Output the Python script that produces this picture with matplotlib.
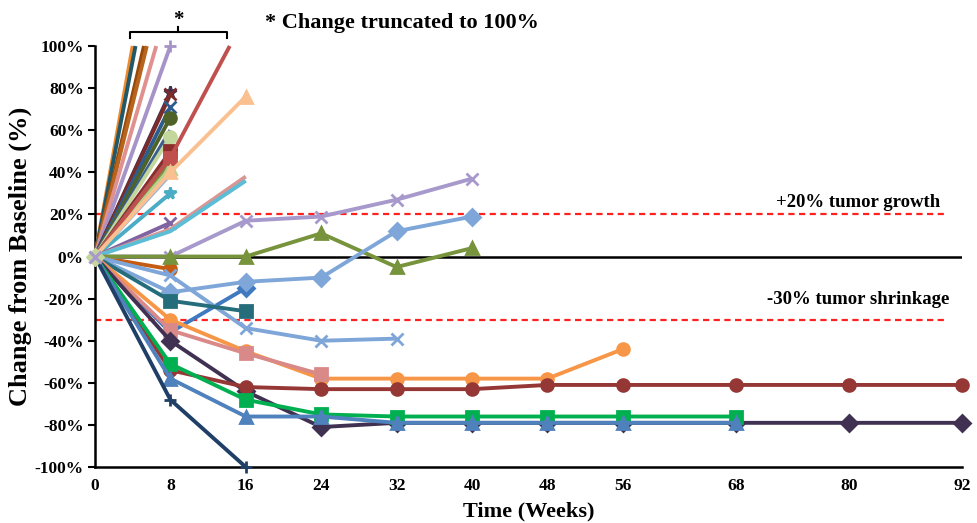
import matplotlib.pyplot as plt
import numpy as np

plt.rcParams['font.family'] = 'Liberation Serif'
plt.rcParams['font.weight'] = 'bold'

# week grid and tick labels
x_ticks = [0, 8, 16, 24, 32, 40, 48, 56, 68, 80, 92]
y_ticks = [-100, -80, -60, -40, -20, 0, 20, 40, 60, 80, 100]

# patients whose change was truncated at 100% before week 8
trunc_weeks = [4.0, 4.3, 5.2, 5.5, 6.5]
trunc_colors = ['#F08A2C', '#215968', '#984807', '#B7651E', '#E0908E']

# patients with a single follow-up scan at week 8
single_vals = [100, 78, 77, 71, 66, 60, 57, 50, 47, 45, 44, 42, 39, 30, 16, -6]
single_colors = ['#A694C8', '#403152', '#7A2B2A', '#2F5C8F', '#4F6228', '#3B5E91',
                 '#C3D69B', '#8C2E2C', '#2E9C8E', '#31859C', '#77933C', '#B9D18F',
                 '#95B3D7', '#4BACC6', '#8064A2', '#C55A11']
single_markers = ['+', '*', 'x', 'x', 'o', None, 'o', 's', None, '*', None, '^',
                  None, '*', 'x', 'o']

# longer follow-up series
w_red = [0, 8, 14.3]
v_red = [0, 47, 100]
w_peach = [0, 8, 16]
v_peach = [0, 40, 76]
w_pink = [0, 8, 16]
v_pink = [0, 13, 38]
w_cyan = [0, 8, 16]
v_cyan = [0, 12, 36]
w_lav = [0, 8, 16, 24, 32, 40]
v_lav = [0, 0, 17, 19, 27, 37]
w_gtri = [0, 8, 16, 24, 32, 40]
v_gtri = [0, 0, 0, 11, -5, 4]
w_lbdia = [0, 8, 16, 24, 32, 40]
v_lbdia = [0, -17, -12, -10, 12, 19]
w_bdia = [0, 8, 16]
v_bdia = [0, -36, -15]
w_lbx = [0, 8, 16, 24, 32]
v_lbx = [0, -9, -34, -40, -39]
w_teal = [0, 8, 16]
v_teal = [0, -21, -26]
w_orange = [0, 8, 16, 24, 32, 40, 48, 56]
v_orange = [0, -30, -45, -58, -58, -58, -58, -44]
w_salmon = [0, 8, 16, 24]
v_salmon = [0, -35, -46, -56]
w_dpur = [0, 8, 16, 24, 32, 40, 48, 56, 68, 80, 92]
v_dpur = [0, -40, -64, -81, -79, -79, -79, -79, -79, -79, -79]
w_dred = [0, 8, 16, 24, 32, 40, 48, 56, 68, 80, 92]
v_dred = [0, -54, -62, -63, -63, -63, -61, -61, -61, -61, -61]
w_green = [0, 8, 16, 24, 32, 40, 48, 56, 68]
v_green = [0, -51, -68, -75, -76, -76, -76, -76, -76]
w_btri = [0, 8, 16, 24, 32, 40, 48, 56, 68]
v_btri = [0, -58, -76, -76, -79, -79, -79, -79, -79]
w_navy = [0, 8, 16]
v_navy = [0, -68, -100]

fig = plt.figure(figsize=(9.77, 5.23), dpi=100)
ax = fig.add_axes([0.0972, 0.107, 0.8875, 0.805])

lw = 2.8
ms = 8.5


def line(w, v, color, marker=None, mevery=None, z=3):
    ax.plot(w, v, color=color, lw=lw, marker=marker, ms=ms, mew=2,
            markevery=mevery, clip_on=False, zorder=z, solid_capstyle='butt')


# reference lines
ax.axhline(0, xmin=0, xmax=1, color='black', lw=1.8, zorder=2)
ax.plot([0, 90.5], [20, 20], color='#FF2020', lw=1.6, ls=(0, (2.8, 2)), zorder=2)
ax.plot([0, 90.5], [-30, -30], color='#FF2020', lw=1.6, ls=(0, (2.8, 2)), zorder=2)

for wk, c in zip(trunc_weeks, trunc_colors):
    line([0, wk], [0, 100], c)

for val, c, m in zip(single_vals, single_colors, single_markers):
    line([0, 8], [0, val], c, m, mevery=[1] if m else None)

line(w_red, v_red, '#C0504D', 's', mevery=[1])
line(w_peach, v_peach, '#FAC090', '^', mevery=[1, 2])
line(w_pink, v_pink, '#D99694')
line(w_cyan, v_cyan, '#5BBDD6')
line(w_lav, v_lav, '#A899CC', 'x', mevery=[1, 2, 3, 4, 5])
line(w_gtri, v_gtri, '#77933C', '^', mevery=[1, 2, 3, 4, 5])
line(w_bdia, v_bdia, '#3F79BF', 'D', mevery=[2])
line(w_lbdia, v_lbdia, '#7EA6D8', 'D', mevery=[1, 2, 3, 4, 5])
line(w_lbx, v_lbx, '#7EA6D8', 'x', mevery=[1, 2, 3, 4])
line(w_teal, v_teal, '#256D7B', 's', mevery=[1, 2])
line(w_orange, v_orange, '#F79646', 'o', mevery=list(range(1, 8)))
line(w_salmon, v_salmon, '#D98A88', 's', mevery=[1, 2, 3])
line(w_dpur, v_dpur, '#403152', 'D', mevery=list(range(1, 11)))
line(w_dred, v_dred, '#953735', 'o', mevery=list(range(1, 11)))
line(w_green, v_green, '#00B050', 's', mevery=list(range(1, 9)))
line(w_btri, v_btri, '#4F81BD', '^', mevery=list(range(1, 9)))
line(w_navy, v_navy, '#1F3F66', '+', mevery=[1, 2])

# light markers at the baseline point
ax.plot([0], [0], marker='D', ms=9, color='#C3D69B', clip_on=False, zorder=4)
ax.plot([0], [0], marker='x', ms=9, mew=2.2, color='#A899CC', clip_on=False, zorder=5)

ax.set_xlim(0, 92)
ax.set_ylim(-100, 100)
ax.set_xticks(x_ticks)
ax.set_yticks(y_ticks)
ax.set_yticklabels([f'{t}%' for t in y_ticks])
ax.tick_params(axis='y', direction='out', length=5, width=1.5, labelsize=12.5, pad=3)
ax.tick_params(axis='x', length=0, labelsize=12.5, pad=8)
for s in ['top', 'right']:
    ax.spines[s].set_visible(False)
for s in ['left', 'bottom']:
    ax.spines[s].set_linewidth(1.8)

ax.set_ylabel('Change from Baseline (%)', fontsize=19, fontweight='bold', labelpad=2)
ax.set_xlabel('Time (Weeks)', fontsize=16, fontweight='bold', labelpad=5)

ax.text(81, 25.5, '+20% tumor growth', ha='center', va='center', fontsize=13.5)
ax.text(81, -20.5, '-30% tumor shrinkage', ha='center', va='center', fontsize=13.5)

# bracket over the truncated series
bx0, bx1, bxm = 3.7, 14.0, 8.8
ax.plot([bx0, bx0, bx1, bx1], [104, 106.5, 106.5, 104], color='black', lw=1.5, clip_on=False)
ax.plot([bxm, bxm], [106.5, 108.8], color='black', lw=1.5, clip_on=False)
ax.text(bxm, 107.5, '*', ha='center', va='bottom', fontsize=15)
fig.text(0.411, 0.956, '* Change truncated to 100%', ha='center', va='center', fontsize=16)

fig.savefig('out.png', dpi=100)
